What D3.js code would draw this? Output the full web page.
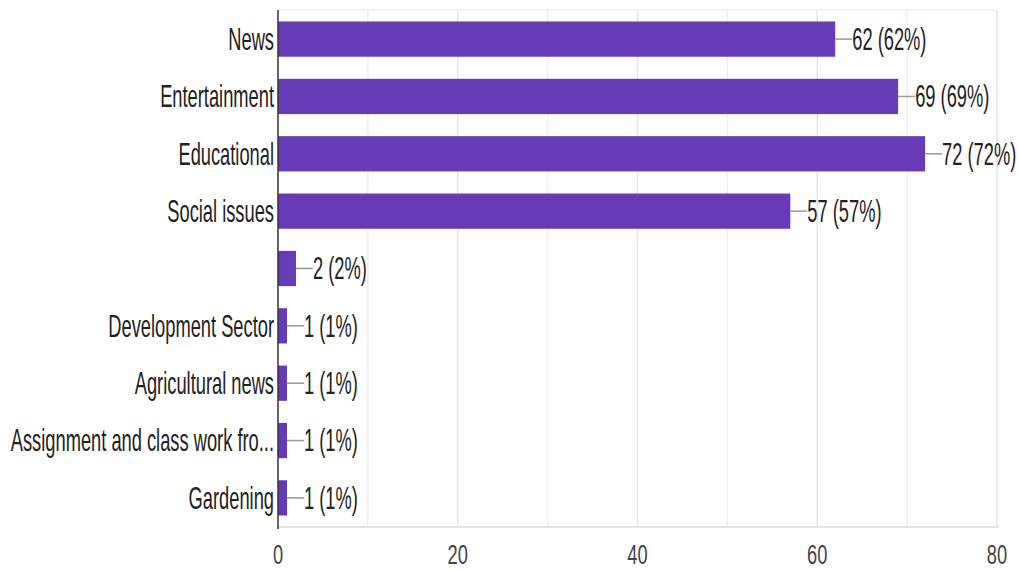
<!DOCTYPE html>
<html><head><meta charset="utf-8">
<script src="https://cdn.jsdelivr.net/npm/d3@7"></script>
<style>
html,body{margin:0;padding:0;background:#fff;}
svg{display:block;}
text{font-family:"Liberation Sans",Arial,sans-serif;}
</style></head>
<body><svg id="c" width="1018" height="571"></svg>
<script>
const categories = ["News","Entertainment","Educational","Social issues","","Development Sector","Agricultural news","Assignment and class work fro...","Gardening"];
const counts = [62,69,72,57,2,1,1,1,1];
const percents = [62,69,72,57,2,1,1,1,1];
const xTicks = [0,20,40,60,80];
const xGrid = [10,30,50,70];

(function(){
const svg = d3.select("#c");
const pL = 278, pR = 997, pT = 10, pB = 527;
const FS = 18.3, SY = 1.68, SYT = 1.55;

const x = d3.scaleLinear().domain([0,80]).range([pL,pR]);
const y = d3.scaleBand().domain(categories.map((d,i)=>i)).range([pT,pB]).paddingInner(0.385).paddingOuter(0.2);

svg.append("g").selectAll("line").data(xGrid).join("line")
  .attr("x1",d=>x(d)).attr("x2",d=>x(d)).attr("y1",pT).attr("y2",pB)
  .attr("stroke","#efefef").attr("stroke-width",1.5);
svg.append("g").selectAll("line").data(xTicks.slice(1)).join("line")
  .attr("x1",d=>x(d)).attr("x2",d=>x(d)).attr("y1",pT).attr("y2",pB)
  .attr("stroke","#e6e6e6").attr("stroke-width",1.5);
svg.append("line").attr("x1",pL).attr("x2",pR).attr("y1",pT).attr("y2",pT).attr("stroke","#eeeeee").attr("stroke-width",1.5);
svg.append("line").attr("x1",pL).attr("x2",pR+2).attr("y1",pB).attr("y2",pB).attr("stroke","#e3e3e3").attr("stroke-width",2);

svg.append("g").selectAll("rect").data(counts).join("rect")
  .attr("x",x(0)).attr("y",(d,i)=>y(i)).attr("width",d=>x(d)-x(0)).attr("height",y.bandwidth())
  .attr("fill","#673ab7");

const g = svg.append("g");
counts.forEach((d,i)=>{
  const cy = y(i)+y.bandwidth()/2;
  const x0 = x(d);
  g.append("line").attr("x1",x0).attr("x2",x0+17).attr("y1",cy).attr("y2",cy).attr("stroke","#999").attr("stroke-width",1.5);
  g.append("text").attr("transform",`translate(${x0+17},${cy}) scale(1,${SY})`)
    .attr("dominant-baseline","central").attr("font-size",FS).attr("fill","#222")
    .text(`${d} (${percents[i]}%)`);
});

svg.append("g").selectAll("text").data(categories).join("text")
  .attr("transform",(d,i)=>`translate(${pL-4},${y(i)+y.bandwidth()/2}) scale(1,${SY})`)
  .attr("text-anchor","end").attr("dominant-baseline","central")
  .attr("font-size",FS).attr("fill","#222").text(d=>d);

svg.append("g").selectAll("text").data(xTicks).join("text")
  .attr("transform",d=>`translate(${x(d)},554) scale(1,${SYT})`)
  .attr("text-anchor","middle").attr("dominant-baseline","central")
  .attr("font-size",FS).attr("fill","#444").text(d=>d);

svg.append("line").attr("x1",pL).attr("x2",pL).attr("y1",pT).attr("y2",pB+2).attr("stroke","#333").attr("stroke-width",1.5);
})();
</script></body></html>
